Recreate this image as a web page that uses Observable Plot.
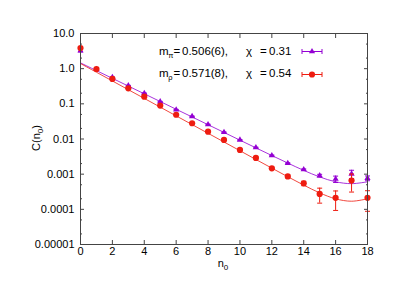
<!DOCTYPE html>
<html><head><meta charset="utf-8">
<script src="https://cdn.jsdelivr.net/npm/d3@7"></script>
<script src="https://cdn.jsdelivr.net/npm/@observablehq/plot@0.6"></script>
<style>body{margin:0;background:#fff}#chart{width:415px;height:294px}</style>
</head><body><div id="chart"></div>
<script>
const n0 = [0,1,2,3,4,5,6,7,8,9,10,11,12,13,14,15,16,17,18];
// m_pi correlator (purple triangles)
const piC   = [3.25,0.96,0.57,0.33,0.20,0.115,0.068,0.044,0.0257,0.0155,0.0094,0.0057,0.0034,0.00204,0.00135,0.00091,0.00073,0.00102,0.00077];
const piErr = [0.25,0.02,0.01,0.006,0.004,0.0025,0.0015,0.001,0.0006,0.0004,0.00025,0.00015,0.0001,0.00007,0.00006,0.00008,0.00015,0.00027,0.00012];
// m_rho correlator (red circles)
const rhoC   = [3.87,0.98,0.51,0.276,0.16,0.089,0.049,0.028,0.0162,0.0094,0.0049,0.0029,0.00147,0.00086,0.00055,0.000275,0.000213,0.00066,0.000213];
const rhoErr = [0.35,0.02,0.012,0.007,0.004,0.0025,0.0015,0.0009,0.0006,0.0004,0.00025,0.00018,0.0001,0.00008,0.00008,0.000125,0.00012,0.00035,0.000125];
// fit curves
const piFit  = [1.46,0.880,0.531,0.320,0.193,0.1163,0.0701,0.0423,0.0255,0.01537,0.00927,0.00560,0.00339,0.00207,0.00128,0.000835,0.000607,0.000537,0.000607];
const rhoFit = [1.40,0.791,0.447,0.252,0.1427,0.0806,0.0455,0.0257,0.01453,0.00821,0.00464,0.00262,0.001485,0.000845,0.000488,0.000294,0.000199,0.000170,0.000199];
const xTicks = [0,2,4,6,8,10,12,14,16,18];
const yTicks = [10,1,0.1,0.01,0.001,0.0001,0.00001];
const yTickLabels = ["10.0","1.0","0.1","0.01","0.001","0.0001","0.00001"];
const yMinor = [5,2,0.5,0.2,0.05,0.02,0.005,0.002,0.0005,0.0002,0.00005,0.00002];
const legendRows = [
  {sub:"π", mass:"0.506(6),", chi:"0.31"},
  {sub:"ρ", mass:"0.571(8),", chi:"0.54"}
];

const PURPLE = "#9400d3", RED = "#ee1c10", AXIS = "#444";
const pts = (C, E) => n0.map((n,i)=>({n, c:C[i], lo:C[i]-E[i], hi:C[i]+E[i]}));
const fit = (F) => n0.map((n,i)=>({n, c:F[i]}));
const piPts = pts(piC, piErr), rhoPts = pts(rhoC, rhoErr);
const cap = {draw(ctx){ ctx.moveTo(-2.5,0); ctx.lineTo(2.5,0); }};
const TRI_R = 2.3, DOT_R = 3.1;

function series(P, F, color, symbol, r) {
  return [
    Plot.ruleX(P, {x:"n", y1:"lo", y2:"hi", stroke:color, strokeWidth:1}),
    Plot.dot(P, {x:"n", y:"lo", symbol:cap, stroke:color, strokeWidth:1}),
    Plot.dot(P, {x:"n", y:"hi", symbol:cap, stroke:color, strokeWidth:1}),
    Plot.line(fit(F), {x:"n", y:"c", stroke:color, strokeWidth:1, strokeOpacity:0.8, curve:"catmull-rom"}),
    Plot.dot(P, {x:"n", y:"c", symbol, r, fill:color, stroke:"none"})
  ];
}

const plot = Plot.plot({
  width:415, height:294,
  marginLeft:80, marginRight:48, marginTop:33, marginBottom:50,
  style:{fontFamily:"'Liberation Sans', Arial, sans-serif", fontSize:"11px", color:"#000", background:"#fff"},
  x:{domain:[0,18]},
  y:{type:"log", domain:[1e-5,10]},
  marks:[
    Plot.axisX({ticks:xTicks, anchor:"bottom", tickSize:4, dy:-4, tickFormat:()=>"", label:null, stroke:AXIS}),
    Plot.axisX({ticks:xTicks, anchor:"top", tickSize:4, dy:4, tickFormat:()=>"", label:null, stroke:AXIS}),
    Plot.axisX({ticks:xTicks, anchor:"bottom", tickSize:0, tickPadding:3, label:null, fill:"#000"}),
    Plot.axisY({ticks:yTicks, anchor:"left", tickSize:4, dx:4, tickFormat:()=>"", label:null, stroke:AXIS}),
    Plot.axisY({ticks:yTicks, anchor:"right", tickSize:4, dx:-4, tickFormat:()=>"", label:null, stroke:AXIS}),
    Plot.axisY({ticks:yMinor, anchor:"left", tickSize:2, dx:2, tickFormat:()=>"", label:null, stroke:AXIS}),
    Plot.axisY({ticks:yMinor, anchor:"right", tickSize:2, dx:-2, tickFormat:()=>"", label:null, stroke:AXIS}),
    Plot.axisY({ticks:yTicks, anchor:"left", tickSize:0, tickPadding:6, label:null, fill:"#000",
      tickFormat:d=>yTickLabels[yTicks.indexOf(d)]}),
    ...series(piPts, piFit, PURPLE, "triangle", TRI_R),
    ...series(rhoPts, rhoFit, RED, "circle", DOT_R),
    Plot.frame({stroke:AXIS, strokeWidth:1})
  ]
});
document.getElementById("chart").appendChild(plot);

// labels and legend
const svg = d3.select(plot);
const FONT = "'Liberation Sans', Arial, sans-serif";
const ylab = svg.append("text").attr("transform","translate(40,138) rotate(-90)")
  .attr("text-anchor","middle").attr("font-family",FONT).attr("font-size",11).attr("fill","#000");
ylab.append("tspan").text("C(n");
ylab.append("tspan").attr("font-size",8).attr("dy",3).text("0");
ylab.append("tspan").attr("dy",-3).text(")");
const xlab = svg.append("text").attr("x",223).attr("y",267)
  .attr("text-anchor","middle").attr("font-family",FONT).attr("font-size",11).attr("fill","#000");
xlab.append("tspan").text("n");
xlab.append("tspan").attr("font-size",8).attr("dy",3).text("0");

legendRows.forEach((L,i)=>{
  const base = 55 + i*22, ly = 51.5 + i*23, color = i===0 ? PURPLE : RED;
  const g = svg.append("g").attr("font-family",FONT).attr("font-size",11.5).attr("fill","#000").attr("text-anchor","start");
  g.append("text").attr("x",159).attr("y",base).text("m");
  g.append("text").attr("x",168.3).attr("y",base+3).attr("font-size",7.5).text(L.sub);
  g.append("text").attr("x",173.5).attr("y",base).text("=");
  g.append("text").attr("x",182).attr("y",base).text(L.mass);
  g.append("text").attr("x",246).attr("y",base).text("χ");
  g.append("text").attr("x",260).attr("y",base).text("=");
  g.append("text").attr("x",269).attr("y",base).text(L.chi);
  const s = svg.append("g").attr("stroke",color).attr("stroke-width",1);
  s.append("line").attr("x1",302).attr("x2",322).attr("y1",ly).attr("y2",ly);
  s.append("line").attr("x1",302).attr("x2",302).attr("y1",ly-2.5).attr("y2",ly+2.5);
  s.append("line").attr("x1",322).attr("x2",322).attr("y1",ly-2.5).attr("y2",ly+2.5);
  if (i===0) {
    svg.append("path").attr("d", d3.symbol(d3.symbolTriangle, TRI_R*TRI_R*Math.PI)()).attr("transform",`translate(312,${ly})`).attr("fill",color);
  } else {
    svg.append("circle").attr("cx",312).attr("cy",ly).attr("r",DOT_R).attr("fill",color);
  }
});
</script>
</body></html>
